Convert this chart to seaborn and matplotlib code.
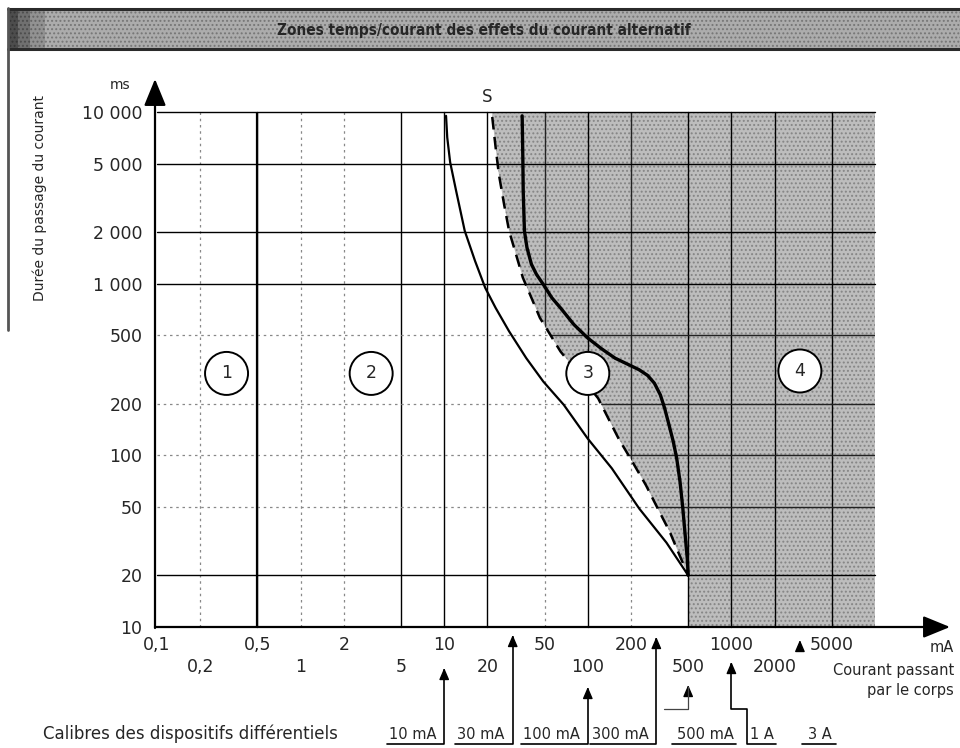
import numpy as np
import pandas as pd
import seaborn as sns
import matplotlib.pyplot as plt
from matplotlib.lines import Line2D
from matplotlib.patches import Rectangle
from matplotlib.ticker import NullLocator

# ---- values (current in mA, duration in ms) ----
curve_a_ma = [0.5, 0.5]
curve_a_ms = [10, 10000]

curve_b_ma = [10.3, 10.5, 11.0, 12.1, 13.9, 16.4, 19.3, 22.8, 28.3, 37.3, 49, 68, 100, 147, 228, 353, 500]
curve_b_ms = [9500, 7100, 5100, 3480, 2030, 1356, 946, 723, 528, 368, 269, 197, 125, 84, 49, 31, 20]

# dashed curve "S" (left edge of the shaded zone)
curve_s_ma = [21.6, 22.8, 24.0, 26.1, 28.3, 31.6, 35.3, 40.5, 46.4, 54.7, 64.5, 118, 139, 164, 204, 254, 307, 373, 427, 500]
curve_s_ms = [9350, 6240, 4360, 2910, 2030, 1484, 1083, 827, 632, 505, 403, 215, 164, 125, 92, 67, 49, 35.7, 27.2, 20]

curve_c_ma = [34.9, 35.1, 35.3, 35.5, 36.2, 37.7, 40.5, 43.9, 49, 56.2, 64.5, 80, 100, 124.5, 155, 193,
              228, 261, 291, 320, 343, 368, 394, 416, 439, 459, 477, 493, 500]
curve_c_ms = [9500, 7140, 5220, 3480, 2030, 1622, 1297, 1133, 990, 827, 723, 578, 482, 418, 368, 337,
              315, 292, 263, 225, 188, 150, 120, 96, 70, 49, 34, 25, 20]

x_ticks = [0.1, 0.2, 0.5, 1, 2, 5, 10, 20, 50, 100, 200, 500, 1000, 2000, 5000]
x_ticklabels = ['0,1', '0,2', '0,5', '1', '2', '5', '10', '20', '50', '100', '200', '500', '1000', '2000', '5000']
y_ticks = [10, 20, 50, 100, 200, 500, 1000, 2000, 5000, 10000]
y_ticklabels = ['10', '20', '50', '100', '200', '500', '1 000', '2 000', '5 000', '10 000']

zone_names = ['1', '2', '3', '4']
zone_ma = [0.305, 3.1, 100, 3000]
zone_ms = [300, 300, 300, 310]

calibre_labels = ['10 mA', '30 mA', '100 mA', '300 mA', '500 mA', '1 A', '3 A']
calibre_ma = [10, 30, 100, 300, 500, 1000, 3000]

sns.set_style('white')
plt.rcParams['font.family'] = ['DejaVu Sans']
plt.rcParams['hatch.linewidth'] = 0.9

W, H = 960, 748
fig = plt.figure(figsize=(W / 100, H / 100), dpi=100)
ax = fig.add_axes([157 / W, 121 / H, 718 / W, 515 / H])


def P(px, py):
    # picture pixel -> figure fraction
    return px / W, 1 - py / H


ax.set_xscale('log')
ax.set_yscale('log')
ax.set_xlim(0.1, 10000)
ax.set_ylim(10, 10000)

# shaded zone right of the S curve
shade_y = [10000] + curve_s_ms + [10]
shade_x = [curve_s_ma[0]] + curve_s_ma + [curve_s_ma[-1]]
shade = ax.fill_betweenx(shade_y, shade_x, 10000, facecolor='#bdbdbd',
                         edgecolor='#858585', hatch='....', linewidth=0, zorder=1)
shade_path = shade.get_paths()[0]

# grid
solid_x = {0.5, 5, 10, 20, 100, 500, 1000, 2000, 5000}
solid_y = {20, 1000, 2000, 5000, 10000}
for v in x_ticks[1:]:
    if v in solid_x:
        ax.axvline(v, color='black', lw=1.0, zorder=2, clip_on=False)
    else:
        ax.axvline(v, color='#888888', lw=0.9, ls=(0, (2, 3)), zorder=2)
        ln = ax.axvline(v, color='#222222', lw=1.0, zorder=2)
        ln.set_clip_path(shade_path, ax.transData)
for v in y_ticks[1:]:
    if v in solid_y:
        ax.axhline(v, color='black', lw=1.0, zorder=2, clip_on=False)
    else:
        ax.axhline(v, color='#888888', lw=0.9, ls=(0, (2, 3)), zorder=2)
        ln = ax.axhline(v, color='#222222', lw=1.0, zorder=2)
        ln.set_clip_path(shade_path, ax.transData)

# curves
sns.lineplot(x=curve_a_ma, y=curve_a_ms, sort=False, estimator=None, color='black', lw=1.6, ax=ax, zorder=3)
sns.lineplot(x=curve_b_ma, y=curve_b_ms, sort=False, estimator=None, color='black', lw=1.6, ax=ax, zorder=3)
sns.lineplot(x=curve_s_ma, y=curve_s_ms, sort=False, estimator=None, color='black', lw=1.8,
             linestyle=(0, (5, 3)), ax=ax, zorder=3)
sns.lineplot(x=curve_c_ma, y=curve_c_ms, sort=False, estimator=None, color='black', lw=2.4, ax=ax, zorder=3)

for name, xm, ym in zip(zone_names, zone_ma, zone_ms):
    ax.text(xm, ym, name, ha='center', va='center', fontsize=12.5, zorder=6,
            bbox=dict(boxstyle='circle,pad=0.72', fc='white', ec='black', lw=1.4))

ax.text(20, (627 - 97) / 515, 'S', transform=ax.get_xaxis_transform(),
        ha='center', va='center', fontsize=12)

# axes / ticks
for s in ax.spines.values():
    s.set_visible(False)
ax.set_xlabel('')
ax.set_ylabel('')
ax.set_xticks(x_ticks)
ax.set_xticklabels([('' if i % 2 == 0 else '\n') + lab for i, lab in enumerate(x_ticklabels)])
ax.set_yticks(y_ticks)
ax.set_yticklabels(y_ticklabels)
ax.xaxis.set_minor_locator(NullLocator())
ax.yaxis.set_minor_locator(NullLocator())
ax.tick_params(axis='x', length=0, pad=6.5, labelsize=12.5)
ax.tick_params(axis='y', length=0, pad=10.5, labelsize=12.5)
for t in ax.get_xticklabels():
    t.set_linespacing(1.25)

arrow_kw = dict(arrowstyle='-|>,head_length=1.1,head_width=0.45', color='black', lw=1.6,
                mutation_scale=15, shrinkA=0, shrinkB=0)
ax.annotate('', xy=P(950, 627), xytext=P(155, 627), xycoords='figure fraction',
            arrowprops=arrow_kw, annotation_clip=False)
ax.annotate('', xy=P(155, 79), xytext=P(155, 628), xycoords='figure fraction',
            arrowprops=arrow_kw, annotation_clip=False)

fig.text(*P(120, 85), 'ms', ha='center', va='center', fontsize=10)
fig.text(*P(40, 198), 'Durée du passage du courant', rotation=90, ha='center', va='center', fontsize=10)
fig.text(*P(942, 648), 'mA', ha='center', va='center', fontsize=10.5)
fig.text(*P(954, 670), 'Courant passant', ha='right', va='center', fontsize=10.5)
fig.text(*P(954, 690), 'par le corps', ha='right', va='center', fontsize=10.5)
fig.text(*P(43, 739), 'Calibres des dispositifs différentiels', ha='left', va='baseline', fontsize=12)

# title band
fig.patches.append(Rectangle(P(8, 50), (W - 8) / W, 42 / H, transform=fig.transFigure,
                             facecolor='#acacac', edgecolor='#767676', hatch='....', lw=0, zorder=0))
for x0, x1, a in [(8, 18, 0.55), (18, 30, 0.35), (30, 45, 0.15)]:
    fig.patches.append(Rectangle(P(x0, 50), (x1 - x0) / W, 42 / H, transform=fig.transFigure,
                                 facecolor='black', alpha=a, lw=0, zorder=0))
for yy in (9, 49):
    fig.add_artist(Line2D([8 / W, 1], [1 - yy / H] * 2, color='#2a2a2a', lw=2.2, transform=fig.transFigure))
fig.add_artist(Line2D([8 / W] * 2, [1 - 8 / H, 1 - 330 / H], color='#555555', lw=2, transform=fig.transFigure))
fig.text(*P(484, 30), 'Zones temps/courant des effets du courant alternatif',
         ha='center', va='center', fontsize=11, fontweight='heavy', fontstretch='condensed')

# calibre call-outs
renderer = fig.canvas.get_renderer()


def px_x(ma):
    return ax.transData.transform((ma, 100))[0]


def seg(xs, ys, **kw):
    kw = {**dict(color='black', lw=1.2), **kw}
    fig.add_artist(Line2D([x / W for x in xs], [1 - y / H for y in ys], transform=fig.transFigure, **kw))


def head(x, y):
    ax.annotate('', xy=P(x, y), xytext=P(x, y + 8), xycoords='figure fraction',
                arrowprops=dict(arrowstyle='-|>,head_length=0.7,head_width=0.3', color='black',
                                lw=1.0, mutation_scale=10, shrinkA=0, shrinkB=0),
                annotation_clip=False)


tip_y = [668, 635, 687, 637, 685, 662, 640]
xv = [px_x(m) for m in calibre_ma]
for i in range(4):
    t = fig.text(*P(xv[i] - 8, 739), calibre_labels[i], ha='right', va='baseline', fontsize=10.5)
    bb = t.get_window_extent(renderer)
    seg([bb.x0 - 2, xv[i], xv[i]], [744, 744, tip_y[i] + 2])
    head(xv[i], tip_y[i])

t = fig.text(*P(677, 739), calibre_labels[4], ha='left', va='baseline', fontsize=10.5)
bb = t.get_window_extent(renderer)
seg([672, bb.x1 + 2], [744, 744])
seg([xv[3] + 8, xv[4], xv[4]], [709, 709, tip_y[4] + 2], color='#444444', lw=0.9)
head(xv[4], tip_y[4])

t = fig.text(*P(750, 739), calibre_labels[5], ha='left', va='baseline', fontsize=10.5)
bb = t.get_window_extent(renderer)
seg([bb.x1 + 2, 747, 747, xv[5], xv[5]], [744, 744, 709, 709, tip_y[5] + 2])
head(xv[5], tip_y[5])

t = fig.text(*P(808, 739), calibre_labels[6], ha='left', va='baseline', fontsize=10.5)
bb = t.get_window_extent(renderer)
seg([802, bb.x1 + 4], [744, 744])
head(xv[6], tip_y[6])

fig.savefig('out.png', dpi=100)
